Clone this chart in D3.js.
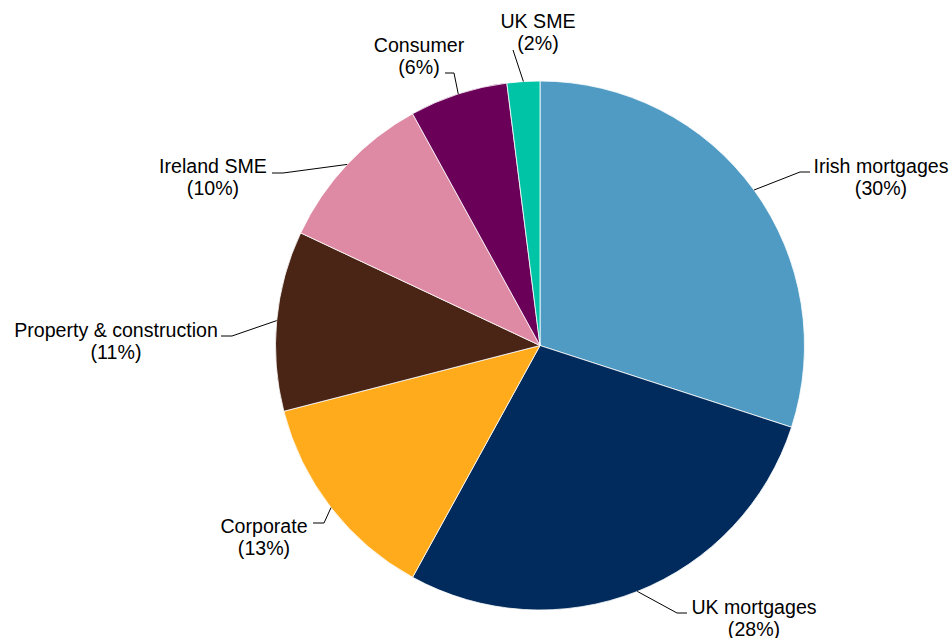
<!DOCTYPE html>
<html>
<head>
<meta charset="utf-8">
<script src="https://cdn.jsdelivr.net/npm/d3@7"></script>
<style>
  html, body { margin: 0; padding: 0; background: #fff; }
  svg { display: block; }
  .lbl { font-family: "Liberation Sans", Arial, sans-serif; font-size: 19.6px; fill: #000; }
</style>
</head>
<body>
<svg id="chart" width="950" height="638"></svg>
<script>
// data
const categories = ["Irish mortgages", "UK mortgages", "Corporate", "Property & construction", "Ireland SME", "Consumer", "UK SME"];
const shares = [30, 28, 13, 11, 10, 6, 2];
const colors = ["#509BC3", "#002B5C", "#FFAB1C", "#4A2415", "#DE8AA4", "#6B0058", "#00C4A6"];

// label placement (elbow of leader, end of leader, text centre x, first baseline y)
const labelLayout = [
  { elbow: [800, 172], end: [810, 172], tx: 881, ty: 173 },
  { elbow: [677, 613], end: [687, 613], tx: 754, ty: 614 },
  { elbow: [324, 523], end: [313, 523], tx: 264, ty: 533 },
  { elbow: [232, 336], end: [221, 336], tx: 116, ty: 337 },
  { elbow: [283, 173], end: [272, 173], tx: 213, ty: 173 },
  { elbow: [454, 73], end: [445, 73], tx: 419, ty: 52 },
  { elbow: null, end: [513, 50], tx: 538, ty: 28 }
];

const cx = 540, cy = 345.5, r = 264.5;
const svg = d3.select("#chart");
const g = svg.append("g").attr("transform", `translate(${cx},${cy})`);

const pie = d3.pie().sort(null).value(d => d.value);
const arcs = pie(categories.map((c, i) => ({ name: c, value: shares[i], color: colors[i] })));
const arc = d3.arc().innerRadius(0).outerRadius(r);
const edge = d3.arc().innerRadius(r).outerRadius(r);

g.selectAll("path.slice")
  .data(arcs)
  .join("path")
  .attr("class", "slice")
  .attr("d", arc)
  .attr("fill", d => d.data.color)
  .attr("stroke", "#fff")
  .attr("stroke-width", 0.8);

// leader lines
const line = d3.line();
svg.selectAll("path.leader")
  .data(arcs)
  .join("path")
  .attr("class", "leader")
  .attr("d", (d, i) => {
    const [x, y] = edge.centroid(d);
    const L = labelLayout[i];
    const pts = [[cx + x, cy + y]];
    if (L.elbow) pts.push(L.elbow);
    pts.push(L.end);
    return line(pts);
  })
  .attr("fill", "none")
  .attr("stroke", "#000")
  .attr("stroke-width", 1);

// labels
const labels = svg.selectAll("text.lbl")
  .data(arcs)
  .join("text")
  .attr("class", "lbl")
  .attr("text-anchor", "middle")
  .attr("x", (d, i) => labelLayout[i].tx)
  .attr("y", (d, i) => labelLayout[i].ty);
labels.append("tspan")
  .attr("x", (d, i) => labelLayout[i].tx)
  .text(d => d.data.name);
labels.append("tspan")
  .attr("x", (d, i) => labelLayout[i].tx)
  .attr("dy", 22)
  .text(d => `(${d.data.value}%)`);
</script>
</body>
</html>
